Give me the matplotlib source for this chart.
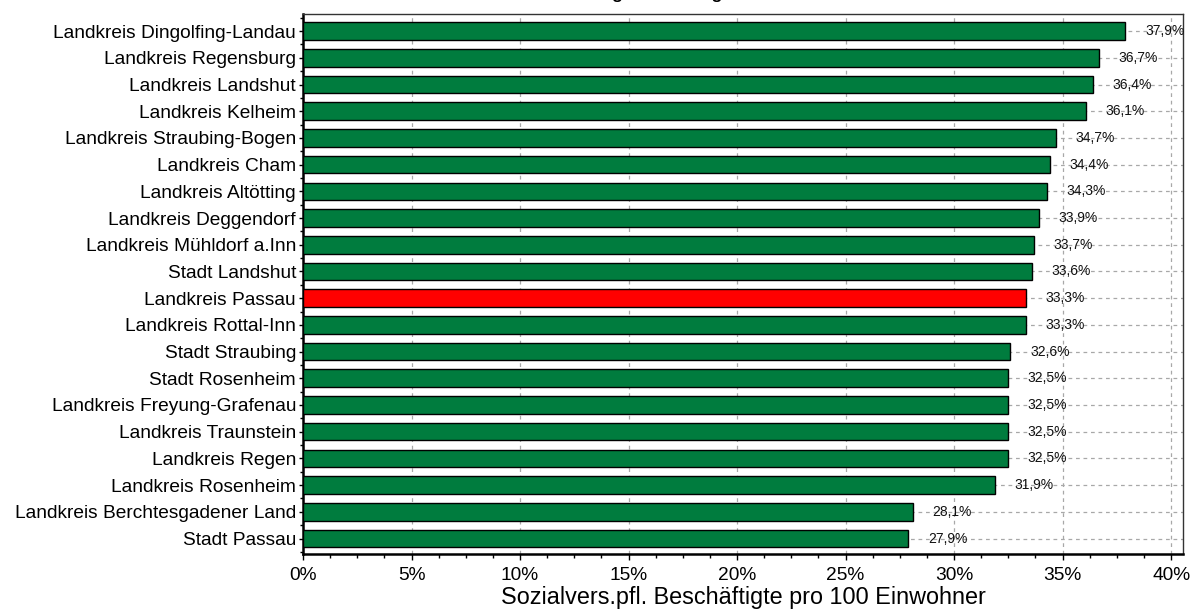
import matplotlib
matplotlib.use("Agg")
import matplotlib.pyplot as plt
from matplotlib.ticker import MultipleLocator, FuncFormatter

plt.rcParams['font.family'] = ['Liberation Sans', 'DejaVu Sans']

regions = [
    "Landkreis Dingolfing-Landau",
    "Landkreis Regensburg",
    "Landkreis Landshut",
    "Landkreis Kelheim",
    "Landkreis Straubing-Bogen",
    "Landkreis Cham",
    "Landkreis Altötting",
    "Landkreis Deggendorf",
    "Landkreis Mühldorf a.Inn",
    "Stadt Landshut",
    "Landkreis Passau",
    "Landkreis Rottal-Inn",
    "Stadt Straubing",
    "Stadt Rosenheim",
    "Landkreis Freyung-Grafenau",
    "Landkreis Traunstein",
    "Landkreis Regen",
    "Landkreis Rosenheim",
    "Landkreis Berchtesgadener Land",
    "Stadt Passau",
]
values = [37.9, 36.7, 36.4, 36.1, 34.7, 34.4, 34.3, 33.9, 33.7, 33.6,
          33.3, 33.3, 32.6, 32.5, 32.5, 32.5, 32.5, 31.9, 28.1, 27.9]
highlight = "Landkreis Passau"

x_ticks = [0, 5, 10, 15, 20, 25, 30, 35, 40]
x_label = "Sozialvers.pfl. Beschäftigte pro 100 Einwohner"
title = "Regionaler Vergleich"

GREEN = "#007c3e"
RED = "#ff0000"

W, H = 1192, 610
fig = plt.figure(figsize=(W / 100, H / 100), dpi=100)
ax = fig.add_axes([303 / W, 56 / H, 880 / W, 540 / H])

ypos = list(range(len(regions)))
colors = [RED if r == highlight else GREEN for r in regions]

ax.set_axisbelow(True)
ax.barh(ypos, values, height=0.66, color=colors,
        edgecolor="black", linewidth=1.0, zorder=3)

# dashed grid: vertical at major ticks, horizontal through each row
ax.grid(axis="x", which="major", color="#a8a8a8", linestyle=(0, (3, 3)),
        linewidth=0.9, zorder=0)
for y in ypos:
    ax.axhline(y, color="#a8a8a8", linestyle=(0, (3, 3)), linewidth=0.9,
               zorder=0)

for y, v in zip(ypos, values):
    ax.annotate(f"{v:.1f}%".replace(".", ","), xy=(v, y),
                xytext=(14, 0), textcoords="offset points",
                ha="left", va="center", fontsize=10, color="#111111",
                zorder=4)

ax.set_xlim(0, 40.55)
ax.set_ylim(len(regions) - 1 + 0.58, -0.64)
ax.set_xticks(x_ticks)
ax.xaxis.set_major_formatter(FuncFormatter(lambda v, p: f"{v:.0f}%"))
ax.xaxis.set_minor_locator(MultipleLocator(1.25))
ax.set_yticks(ypos)
ax.set_yticklabels(regions)
ax.set_yticks([y + 0.5 for y in ypos[:-1]] + [-0.5, ypos[-1] + 0.5], minor=True)

ax.tick_params(axis="x", which="major", length=4, width=1, pad=5,
               labelsize=13.8, colors="black")
ax.tick_params(axis="x", which="minor", length=3, width=1)
ax.tick_params(axis="y", which="major", length=3, width=1, pad=2,
               labelsize=13.8)
ax.tick_params(axis="y", which="minor", length=2, width=1)

for side in ("left", "bottom"):
    ax.spines[side].set_linewidth(1.8)
    ax.spines[side].set_color("black")
for side in ("top", "right"):
    ax.spines[side].set_linewidth(1.0)
    ax.spines[side].set_color("#333333")

ax.set_xlabel(x_label, fontsize=16.8, labelpad=2)

fig.text(590 / W, 1.0 + 0.5 / H, title, ha="left", va="baseline",
         fontsize=12.5, fontweight="bold")

fig.savefig("out.png", dpi=100)
